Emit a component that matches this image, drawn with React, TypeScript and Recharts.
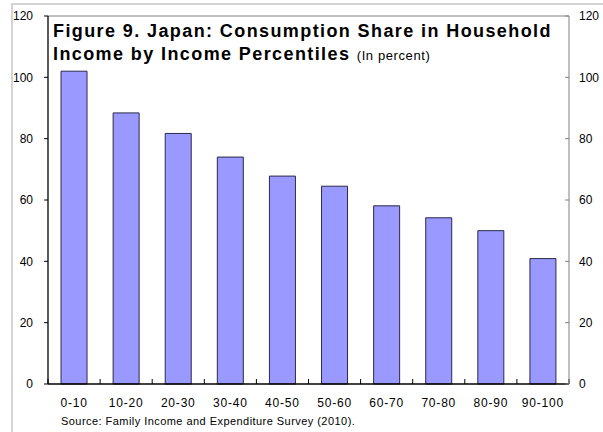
import React from "react";
import { ComposedChart, Bar, Line, XAxis, YAxis, ReferenceLine } from "recharts";

const percentiles = ["0-10", "10-20", "20-30", "30-40", "40-50", "50-60", "60-70", "70-80", "80-90", "90-100"];
const consumptionShare = [102.0, 88.4, 81.7, 74.0, 67.8, 64.5, 58.1, 54.2, 50.0, 40.9];
const yTicks = [0, 20, 40, 60, 80, 100, 120];
const boundaryTicks = [0, 1, 2, 3, 4, 5, 6, 7, 8, 9, 10];

const data = percentiles.map((name, i) => ({ name, value: consumptionShare[i], pos: i + 0.5 }));

const FONT = "'Liberation Sans', Arial, sans-serif";
const blank = () => "";

export default function App() {
  return (
    <div style={{ position: "absolute", left: 0, top: 0, width: 603, height: 432, overflow: "hidden", background: "#fff", fontFamily: FONT }}>
      {/* light frame around the figure */}
      <div style={{ position: "absolute", left: 11, top: 3, width: 620, height: 460, borderLeft: "2px solid #d4d4d4", borderTop: "2px solid #d4d4d4" }} />

      <ComposedChart
        width={603}
        height={432}
        data={data}
        margin={{ top: 16, right: 0, bottom: 0, left: 0 }}
        barCategoryGap="25%"
        style={{ position: "absolute", left: 0, top: 0 }}
      >
        {/* tick marks between categories, pointing into the plot */}
        <XAxis
          xAxisId="bounds"
          dataKey="pos"
          type="number"
          domain={[0, 10]}
          ticks={boundaryTicks}
          height={1}
          mirror
          axisLine={false}
          tickSize={5}
          tickLine={{ stroke: "#000" }}
          tickFormatter={blank}
        />
        <XAxis
          dataKey="name"
          height={48}
          axisLine={false}
          tickLine={false}
          tickSize={0}
          tickMargin={14}
          interval={0}
          tick={{ fontSize: 12, fill: "#000", fontFamily: FONT, letterSpacing: 0.8 }}
        />
        <YAxis
          width={48}
          domain={[0, 120]}
          ticks={yTicks}
          axisLine={{ stroke: "#000", strokeWidth: 1.3 }}
          tickLine={{ stroke: "#000" }}
          tickSize={4}
          tickMargin={11}
          tick={{ fontSize: 12, fill: "#000", fontFamily: FONT }}
        />
        <YAxis
          yAxisId="rticks"
          orientation="right"
          width={1}
          domain={[0, 120]}
          ticks={yTicks}
          mirror
          axisLine={{ stroke: "#808080" }}
          tickSize={4}
          tickLine={{ stroke: "#808080" }}
          tickFormatter={blank}
        />
        <YAxis
          yAxisId="right"
          orientation="right"
          width={34}
          domain={[0, 120]}
          ticks={yTicks}
          axisLine={false}
          tickLine={false}
          tickSize={0}
          tickMargin={10}
          tick={{ fontSize: 12, fill: "#000", fontFamily: FONT }}
        />
        <ReferenceLine y={120} stroke="#808080" />
        <ReferenceLine y={0} stroke="#000" strokeWidth={1.3} />
        <Bar dataKey="value" fill="#9999FF" stroke="#2a2a4a" strokeWidth={1} isAnimationActive={false} />
        {/* invisible series so the secondary axes get drawn */}
        <Line yAxisId="right" dataKey="value" stroke="none" dot={false} activeDot={false} isAnimationActive={false} />
        <Line yAxisId="rticks" dataKey="value" stroke="none" dot={false} activeDot={false} isAnimationActive={false} />
        <Line xAxisId="bounds" dataKey="value" stroke="none" dot={false} activeDot={false} isAnimationActive={false} />
      </ComposedChart>

      <div style={{ position: "absolute", left: 53, top: 20, fontWeight: "bold", fontSize: 18, lineHeight: "23px", letterSpacing: 1.4, color: "#000", whiteSpace: "nowrap" }}>
        Figure 9. Japan: Consumption Share in Household
        <br />
        Income by Income Percentiles{" "}
        <span style={{ fontWeight: "normal", fontSize: 13, letterSpacing: 0.6 }}>(In percent)</span>
      </div>

      <div style={{ position: "absolute", left: 61, top: 414, fontSize: 11, lineHeight: "14px", letterSpacing: 0.45, color: "#000", whiteSpace: "nowrap" }}>
        Source: Family Income and Expenditure Survey (2010).
      </div>
    </div>
  );
}
